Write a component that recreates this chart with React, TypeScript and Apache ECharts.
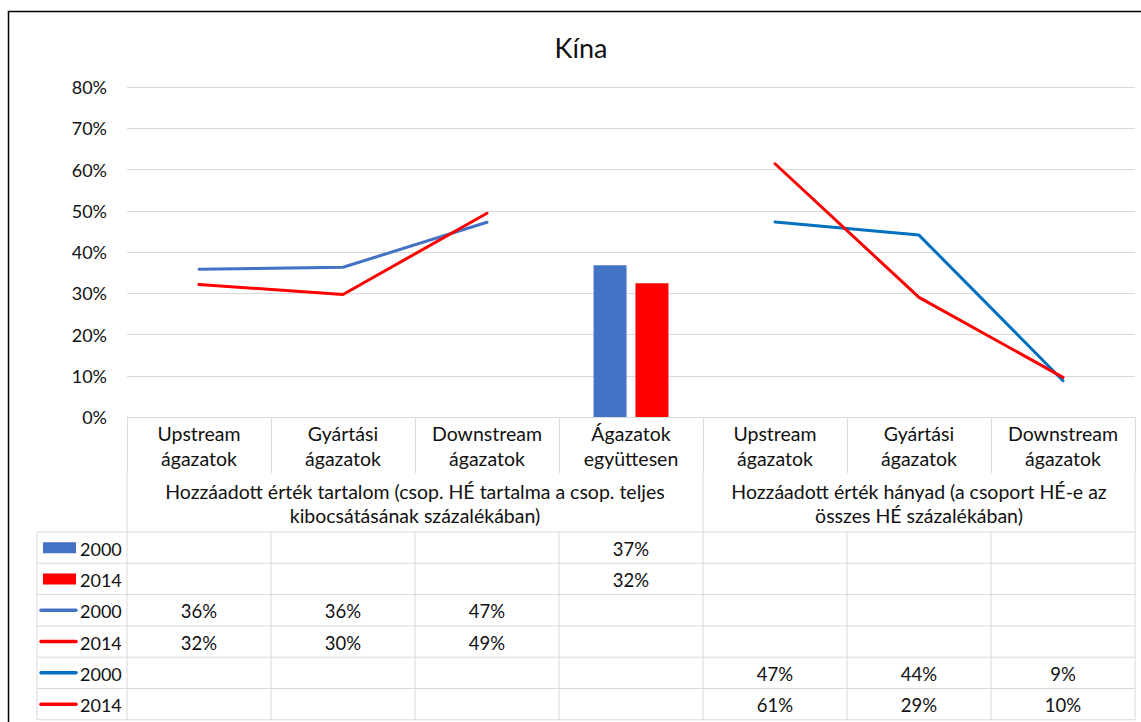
import React, { useEffect, useRef } from "react";
import * as echarts from "echarts";

const categories = [
  "Upstream\nágazatok",
  "Gyártási\nágazatok",
  "Downstream\nágazatok",
  "Ágazatok\negyüttesen",
  "Upstream\nágazatok",
  "Gyártási\nágazatok",
  "Downstream\nágazatok",
];
const groupLabels = [
  "Hozzáadott érték tartalom (csop. HÉ tartalma a csop. teljes\nkibocsátásának százalékában)",
  "Hozzáadott érték hányad (a csoport HÉ-e az\nösszes HÉ százalékában)",
];
const groupSpans = [
  [0, 4],
  [4, 7],
];
const yTicks = [0, 10, 20, 30, 40, 50, 60, 70, 80];

const bar2000 = [null, null, null, 36.8, null, null, null];
const bar2014 = [null, null, null, 32.4, null, null, null];
const content2000 = [35.8, 36.3, 47.2, null, null, null, null];
const content2014 = [32.1, 29.7, 49.4, null, null, null, null];
const share2000 = [null, null, null, null, 47.3, 44.1, 8.8];
const share2014 = [null, null, null, null, 61.4, 29.0, 9.6];

const seriesDefs = [
  { name: "2000", kind: "bar", data: bar2000, color: "#4472C4" },
  { name: "2014", kind: "bar", data: bar2014, color: "#FF0000" },
  { name: "2000", kind: "line", data: content2000, color: "#4472C4" },
  { name: "2014", kind: "line", data: content2014, color: "#FF0000" },
  { name: "2000", kind: "line", data: share2000, color: "#0070C0" },
  { name: "2014", kind: "line", data: share2014, color: "#FF0000" },
];

const FONT = "Lato, 'Open Sans', sans-serif";
const GRID_LEFT = 127;
const GRID_RIGHT_X = 1135;
const AXIS_Y = 417;
const TOP_Y = 87;
const CAT_ROW_BOTTOM = 473;
const TABLE_TOP = 532;
const ROW_H = 31.3;
const TABLE_LEFT = 37;
const GRID_COLOR = "#D9D9D9";
const TEXT_COLOR = "#111";

export default function App() {
  const ref = useRef<HTMLDivElement>(null);
  useEffect(() => {
    if (!ref.current) return;
    const chart = echarts.init(ref.current, undefined, { renderer: "svg" });
    const n = categories.length;
    const cw = (GRID_RIGHT_X - GRID_LEFT) / n;
    const bx = (i: number) => GRID_LEFT + i * cw;
    const lineStyle = { stroke: GRID_COLOR, lineWidth: 1 };
    const graphics: any[] = [];

    // outer border
    graphics.push({
      type: "rect",
      shape: { x: 8.5, y: 11.5, width: 1140, height: 720 },
      style: { fill: "none", stroke: "#000", lineWidth: 1.5 },
      silent: true,
    });

    // title
    graphics.push({
      type: "text",
      style: {
        text: "Kína",
        x: 581,
        y: 47,
        align: "center",
        verticalAlign: "middle",
        fontSize: 27,
        fontFamily: FONT,
        fill: TEXT_COLOR,
      },
    });

    // group row verticals
    const groupBoundaries = [0, 4, 7];
    groupBoundaries.forEach((g) => {
      graphics.push({
        type: "line",
        shape: { x1: bx(g), y1: CAT_ROW_BOTTOM, x2: bx(g), y2: TABLE_TOP },
        style: lineStyle,
      });
    });
    // group labels
    groupSpans.forEach((sp, gi) => {
      graphics.push({
        type: "text",
        style: {
          text: groupLabels[gi],
          x: (bx(sp[0]) + bx(sp[1])) / 2,
          y: (CAT_ROW_BOTTOM + TABLE_TOP) / 2 + 1,
          align: "center",
          verticalAlign: "middle",
          fontSize: 19.5,
          lineHeight: 24,
          fontFamily: FONT,
          fill: TEXT_COLOR,
        },
      });
    });

    // data table
    const rows = seriesDefs.length;
    for (let r = 0; r <= rows; r++) {
      const y = TABLE_TOP + r * ROW_H;
      graphics.push({
        type: "line",
        shape: { x1: TABLE_LEFT, y1: y, x2: GRID_RIGHT_X, y2: y },
        style: lineStyle,
      });
    }
    const tableBottom = TABLE_TOP + rows * ROW_H;
    [TABLE_LEFT].concat(Array.from({ length: n + 1 }, (_, i) => bx(i))).forEach((x) => {
      graphics.push({
        type: "line",
        shape: { x1: x, y1: TABLE_TOP, x2: x, y2: tableBottom },
        style: lineStyle,
      });
    });
    seriesDefs.forEach((s, r) => {
      const cy = TABLE_TOP + r * ROW_H + ROW_H / 2;
      if (s.kind === "bar") {
        graphics.push({
          type: "rect",
          shape: { x: 43, y: cy - 5.5, width: 33, height: 11 },
          style: { fill: s.color },
        });
      } else {
        graphics.push({
          type: "line",
          shape: { x1: 41, y1: cy, x2: 76, y2: cy },
          style: { stroke: s.color, lineWidth: 3.5, lineCap: "round" },
        });
      }
      graphics.push({
        type: "text",
        style: {
          text: s.name,
          x: 80,
          y: cy + 1,
          align: "left",
          verticalAlign: "middle",
          fontSize: 18,
          fontFamily: FONT,
          fill: TEXT_COLOR,
        },
      });
      s.data.forEach((v, i) => {
        if (v == null) return;
        graphics.push({
          type: "text",
          style: {
            text: Math.round(v as number) + "%",
            x: bx(i) + cw / 2,
            y: cy + 1,
            align: "center",
            verticalAlign: "middle",
            fontSize: 18.5,
            fontFamily: FONT,
            fill: TEXT_COLOR,
          },
        });
      });
    });

    const series: any[] = seriesDefs.map((s) =>
      s.kind === "bar"
        ? {
            type: "bar",
            name: s.name,
            data: s.data,
            barWidth: 33,
            barGap: "27%",
            itemStyle: { color: s.color },
          }
        : {
            type: "line",
            name: s.name,
            data: s.data,
            symbol: "none",
            connectNulls: false,
            lineStyle: { color: s.color, width: 3, cap: "round" },
            itemStyle: { color: s.color },
          }
    );

    chart.setOption({
      animation: false,
      grid: {
        left: GRID_LEFT,
        right: 1141 - GRID_RIGHT_X,
        top: TOP_Y,
        bottom: 722 - AXIS_Y,
        containLabel: false,
      },
      xAxis: {
        type: "category",
        data: categories,
        boundaryGap: true,
        axisLine: { show: true, lineStyle: { color: GRID_COLOR, width: 1 } },
        axisTick: {
          show: true,
          length: CAT_ROW_BOTTOM - AXIS_Y,
          lineStyle: { color: GRID_COLOR, width: 1 },
        },
        axisLabel: {
          interval: 0,
          margin: 4,
          fontSize: 19.5,
          lineHeight: 25,
          fontFamily: FONT,
          color: TEXT_COLOR,
        },
      },
      yAxis: {
        type: "value",
        min: yTicks[0],
        max: yTicks[yTicks.length - 1],
        interval: 10,
        axisLine: { show: false },
        axisTick: { show: false },
        axisLabel: {
          formatter: "{value}%",
          margin: 20,
          fontSize: 18,
          fontFamily: FONT,
          color: TEXT_COLOR,
        },
        splitLine: { lineStyle: { color: GRID_COLOR, width: 1 } },
      },
      series,
      graphic: graphics,
    });
    return () => chart.dispose();
  }, []);
  return (
    <div
      ref={ref}
      style={{ position: "absolute", left: 0, top: 0, width: 1141, height: 722, background: "#fff" }}
    />
  );
}
